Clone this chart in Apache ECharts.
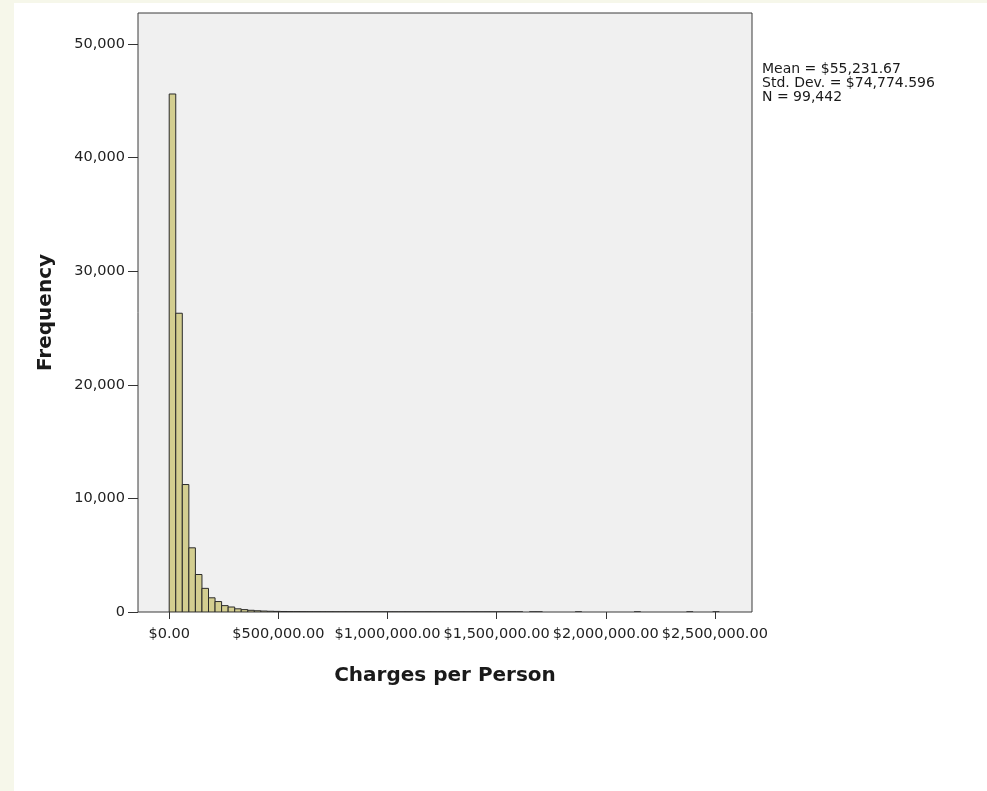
<!DOCTYPE html>
<html>
<head>
<meta charset="utf-8">
<title>Charges per Person</title>
<script src="https://cdn.jsdelivr.net/npm/echarts@6/dist/echarts.min.js"></script>
<style>
  html, body { margin: 0; padding: 0; background: #f6f7ea; }
  #sheet { position: absolute; left: 14px; top: 3px; width: 973px; height: 788px; background: #ffffff; }
  #chart { position: absolute; left: 0; top: 0; width: 987px; height: 791px; }
</style>
</head>
<body>
<div id="sheet"></div>
<div id="chart"></div>
<script>
// Histogram of charges per person: 30,000-wide bins starting at $0
const binWidth = 30000;
const binCounts = [
  45600, 26300, 11220, 5650, 3300, 2080, 1250, 920, 560, 440,
  280, 210, 150, 110, 85, 66, 55, 45, 38, 32,
  27, 22, 18, 15, 13, 11, 9, 8, 7, 6,
  5, 5, 4, 3, 3, 2, 3, 2, 1, 4,
  2, 1, 1, 1, 3, 2, 3, 2, 3, 2,
  1, 2, 3, 2, 0, 1, 2, 0, 0, 0,
  0, 0, 2, 0, 0, 0, 0, 0, 0, 0,
  0, 2, 0, 0, 0, 0, 0, 0, 0, 1,
  0, 0, 0, 2
];
const xTicks = [0, 500000, 1000000, 1500000, 2000000, 2500000];
const yTicks = [0, 10000, 20000, 30000, 40000, 50000];
const statsLines = ['Mean = $55,231.67', 'Std. Dev. = $74,774.596', 'N = 99,442'];

const bins = binCounts.map((c, i) => [i * binWidth, (i + 1) * binWidth, c]);

const FONT = '"DejaVu Sans", "Liberation Sans", Arial, sans-serif';
const money = v => '$' + v.toLocaleString('en-US', { minimumFractionDigits: 2, maximumFractionDigits: 2 });

const chart = echarts.init(document.getElementById('chart'), null, { renderer: 'canvas' });
chart.setOption({
  animation: false,
  backgroundColor: 'transparent',
  grid: {
    left: 138, top: 13, width: 614, height: 599,
    show: true, backgroundColor: '#f0f0f0', borderColor: '#3a3a3a', borderWidth: 1
  },
  xAxis: {
    type: 'value', min: -143000, max: 2670000,
    name: 'Charges per Person', nameLocation: 'middle', nameGap: 54,
    nameTextStyle: { fontFamily: FONT, fontWeight: 'bold', fontSize: 20, color: '#1a1a1a' },
    axisLine: { show: false, onZero: false },
    splitLine: { show: false },
    axisTick: { show: true, length: 7, customValues: xTicks, lineStyle: { color: '#333', width: 1 } },
    axisLabel: { customValues: xTicks, margin: 15, fontFamily: FONT, fontSize: 14.5, color: '#222', formatter: money }
  },
  yAxis: {
    type: 'value', min: 0, max: 52730,
    name: 'Frequency', nameLocation: 'middle', nameRotate: 90, nameGap: 82,
    nameTextStyle: { fontFamily: FONT, fontWeight: 'bold', fontSize: 20, color: '#1a1a1a' },
    axisLine: { show: false, onZero: false },
    splitLine: { show: false },
    axisTick: { show: true, length: 10, customValues: yTicks, lineStyle: { color: '#333', width: 1 } },
    axisLabel: { customValues: yTicks, margin: 13, fontFamily: FONT, fontSize: 14.5, color: '#222',
      formatter: v => v.toLocaleString('en-US') }
  },
  series: [{
    type: 'custom',
    data: bins,
    encode: { x: [0, 1], y: 2 },
    clip: true,
    renderItem: function (params, api) {
      const count = api.value(2);
      if (!count) return null;
      const topLeft = api.coord([api.value(0), count]);
      const bottomRight = api.coord([api.value(1), 0]);
      return {
        type: 'rect',
        shape: { x: topLeft[0], y: topLeft[1], width: bottomRight[0] - topLeft[0], height: bottomRight[1] - topLeft[1] },
        style: { fill: '#d3ce90', stroke: '#2a2a2a', lineWidth: 1 }
      };
    }
  }],
  graphic: [{
    type: 'text', left: 762, top: 62,
    style: { text: statsLines.join('\n'), fontFamily: FONT, fontSize: 14, lineHeight: 14, fill: '#1a1a1a' }
  }]
});
</script>
</body>
</html>
